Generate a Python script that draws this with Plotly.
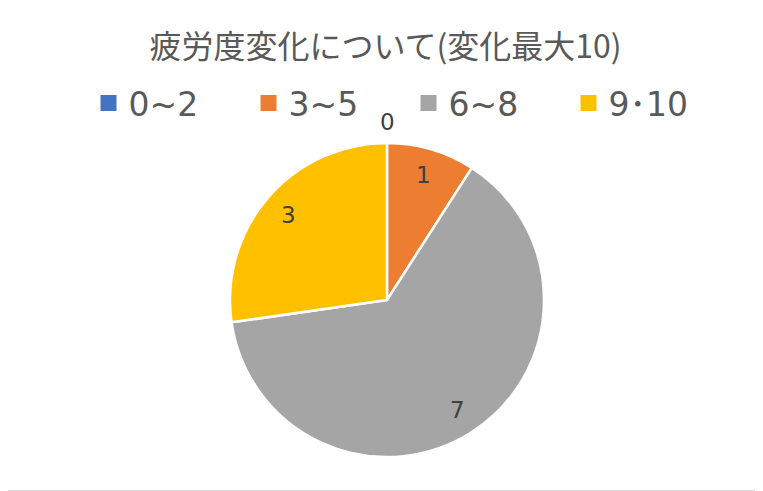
import numpy as np
import plotly.graph_objects as go

# カテゴリと人数
labels = ["0~2", "3~5", "6~8", "9･10"]
values = [0, 1, 7, 3]
colors = ["#4472C4", "#ED7D31", "#A5A5A5", "#FFC000"]

FONT = "Noto Sans CJK JP"
LATIN = "DejaVu Sans, Noto Sans CJK JP"
TEXT_COLOR = "#595959"
LABEL_COLOR = "#404040"

# ページの余白(8px)を差し引いたサイズ
W, H = 755, 483
CX, CY, R = 379, 292, 157   # 円の中心と半径 (px)

dom_x = [(CX - R) / W, (CX + R) / W]
dom_y = [1 - (CY + R) / H, 1 - (CY - R) / H]

fig = go.Figure(go.Pie(
    labels=labels,
    values=values,
    sort=False,
    direction="clockwise",
    rotation=0,
    marker=dict(colors=colors, line=dict(color="white", width=2.5)),
    textinfo="none",
    domain=dict(x=dom_x, y=dom_y),
    hoverinfo="label+value",
    showlegend=False,
))

# 凡例用（大きめの四角マーカー）
for lab, col in zip(labels, colors):
    fig.add_trace(go.Scatter(
        x=[None], y=[None], mode="markers", name=lab,
        marker=dict(symbol="square", size=16, color=col, line=dict(width=0)),
    ))

# データラベル（Excel風に半径の約0.83の位置）
vals = np.array(values, dtype=float)
mid = (np.cumsum(vals) - vals / 2) / vals.sum() * 2 * np.pi
for v, a in zip(values, mid):
    if v == 0:
        x, y = CX, CY - R - 21
    else:
        x, y = CX + 0.83 * R * np.sin(a), CY - 0.83 * R * np.cos(a)
    fig.add_annotation(
        x=x / W, y=1 - y / H, xref="paper", yref="paper",
        xanchor="center", yanchor="middle",
        text=str(v), showarrow=False,
        font=dict(family=LATIN, size=23, color=LABEL_COLOR),
    )

fig.update_layout(
    width=W,
    height=H,
    margin=dict(l=0, r=0, t=0, b=0),
    paper_bgcolor="white",
    plot_bgcolor="rgba(0,0,0,0)",
    xaxis=dict(visible=False),
    yaxis=dict(visible=False),
    title=dict(
        text="疲労度変化について(変化最大10)",
        x=0.5, xanchor="center", y=1 - 39 / H, yanchor="middle",
        font=dict(family=FONT, size=32, color=TEXT_COLOR),
    ),
    legend=dict(
        orientation="h",
        x=0.5 + 23 / W, xanchor="center",
        y=1 - 95 / H, yanchor="middle",
        entrywidth=115,
        font=dict(family=LATIN, size=33, color=TEXT_COLOR),
        itemclick=False,
    ),
    shapes=[
        dict(type="line", xref="paper", yref="paper", x0=1, x1=1, y0=0, y1=1,
             line=dict(color="#D9D9D9", width=2)),
        dict(type="line", xref="paper", yref="paper", x0=0, x1=1, y0=0, y1=0,
             line=dict(color="#D9D9D9", width=2)),
    ],
)

fig.write_html("out.html")
